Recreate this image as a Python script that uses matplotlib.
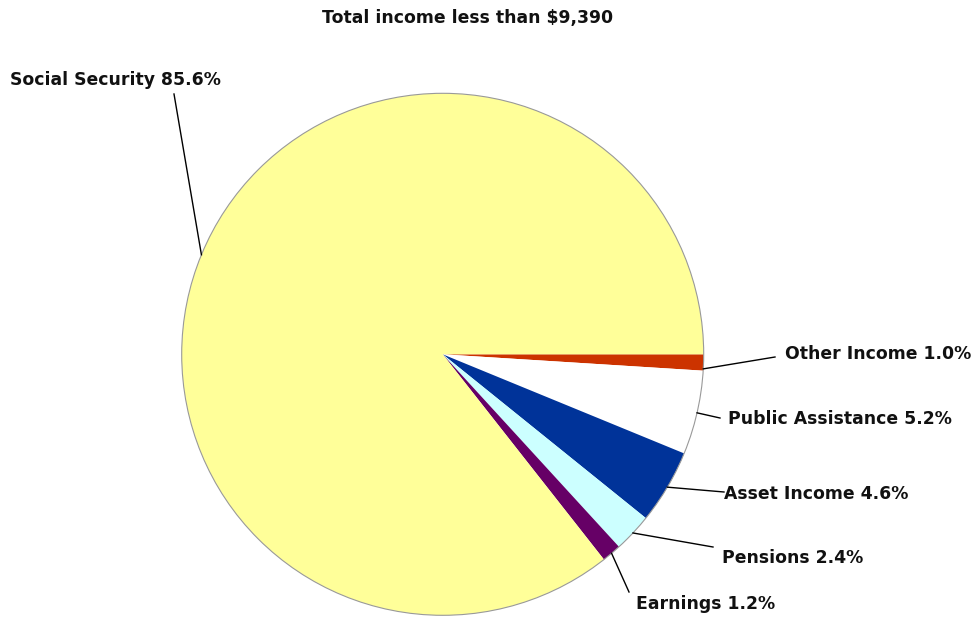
import numpy as np
import matplotlib.pyplot as plt
from matplotlib.patches import Circle

# Income shares, clockwise from 3 o'clock
sources = ['Other Income', 'Public Assistance', 'Asset Income', 'Pensions', 'Earnings', 'Social Security']
shares = [1.0, 5.2, 4.6, 2.4, 1.2, 85.6]
colors = ['#CC3300', '#FFFFFF', '#003399', '#CCFFFF', '#660066', '#FFFF99']

W, H = 975, 619
fig = plt.figure(figsize=(W / 100, H / 100), dpi=100)
ax = fig.add_axes([0, 0, 1, 1])

cx, cy, R = 442.7, H - 354.3, 261

wedges, _ = ax.pie(shares, colors=colors, startangle=0, counterclock=False,
                   center=(cx, cy), radius=R, frame=True,
                   wedgeprops={'linewidth': 0})
ax.set_xlim(0, W)
ax.set_ylim(0, H)
ax.axis('off')
ax.add_patch(Circle((cx, cy), R, facecolor='none', edgecolor='#999999', linewidth=0.8))

# text placement (pixel coords, y from top) and where the leader meets the text
label_pos = {
    'Other Income':      ((785, 354), (775, 357)),
    'Public Assistance': ((728, 419), (720, 418)),
    'Asset Income':      ((724, 494), (724, 492)),
    'Pensions':          ((722, 558), (713, 547)),
    'Earnings':          ((636, 604), (629, 592)),
    'Social Security':   ((10, 80), (174, 94)),
}
angle_adj = {'Other Income': -1.4, 'Social Security': 3.5}

font = dict(fontsize=12.4, fontweight='bold', family='DejaVu Sans', color='#111111')

for w, name, val in zip(wedges, sources, shares):
    ang = np.deg2rad((w.theta1 + w.theta2) / 2 + angle_adj.get(name, 0))
    ex, ey = cx + R * np.cos(ang), cy + R * np.sin(ang)
    (tx, ty), (lx, ly) = label_pos[name]
    ax.plot([ex, lx], [ey, H - ly], color='black', linewidth=1)
    ax.text(tx, H - ty, f'{name} {val:.1f}%', ha='left', va='center', **font)

ax.text(468, H - 18, 'Total income less than $9,390', ha='center', va='center', **font)

fig.savefig('out.png', dpi=100)
